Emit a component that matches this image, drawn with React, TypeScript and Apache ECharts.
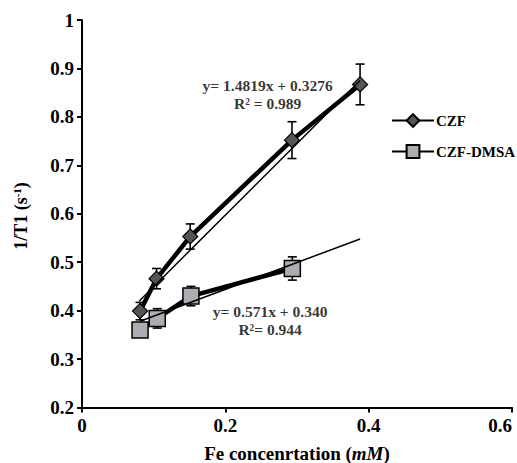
import React, { useEffect, useRef } from "react";
import * as echarts from "echarts";

const czfX = [0.081, 0.104, 0.151, 0.293, 0.388];
const czfY = [0.399, 0.466, 0.553, 0.752, 0.867];
const czfErr = [0.018, 0.021, 0.026, 0.038, 0.042];

const dmsaX = [0.081, 0.105, 0.152, 0.2935];
const dmsaY = [0.36, 0.384, 0.43, 0.487];
const dmsaErr = [0.012, 0.02, 0.02, 0.024];

const czfTrend = [[0.08, 0.42], [0.388, 0.875]];
const dmsaTrend = [[0.081, 0.378], [0.388, 0.548]];

const seriesNames = ["CZF", "CZF-DMSA"];
const czfEq = ["y= 1.4819x + 0.3276", "R² = 0.989"];
const dmsaEq = ["y= 0.571x + 0.340", "R²= 0.944"];

const FONT = "'Liberation Serif', 'Times New Roman', serif";

function errData(xs: number[], ys: number[], es: number[]) {
  return xs.map((x, i) => [x, ys[i] - es[i], ys[i] + es[i]]);
}

const errRender = (params: any, api: any) => {
  const x = api.value(0);
  const lo = api.coord([x, api.value(1)]);
  const hi = api.coord([x, api.value(2)]);
  const w = 4.5;
  const style = { stroke: "#000", lineWidth: 1.6 };
  return {
    type: "group",
    children: [
      { type: "line", shape: { x1: lo[0], y1: lo[1], x2: hi[0], y2: hi[1] }, style },
      { type: "line", shape: { x1: lo[0] - w, y1: lo[1], x2: lo[0] + w, y2: lo[1] }, style },
      { type: "line", shape: { x1: hi[0] - w, y1: hi[1], x2: hi[0] + w, y2: hi[1] }, style },
    ],
  };
};

export default function App() {
  const ref = useRef<HTMLDivElement>(null);
  useEffect(() => {
    if (!ref.current) return;
    const chart = echarts.init(ref.current, undefined, { renderer: "svg" });
    const textBold = { fontFamily: FONT, fontWeight: "bold", color: "#000" };
    chart.setOption({
      animation: false,
      backgroundColor: "#fff",
      grid: {
        left: 82,
        right: 5,
        top: 20,
        bottom: 55.5,
        containLabel: false,
        outerBoundsMode: "none",
      },
      legend: {
        data: seriesNames,
        orient: "vertical",
        left: 386,
        top: 108,
        itemWidth: 42,
        itemHeight: 16,
        itemGap: 16,
        textStyle: { ...textBold, fontSize: 15, padding: [0, 0, 0, -3] },
      },
      xAxis: {
        type: "value",
        min: 0,
        max: 0.6,
        interval: 0.2,
        splitLine: { show: false },
        axisLine: { onZero: false, lineStyle: { color: "#000", width: 2 } },
        axisTick: { show: true, length: 5, lineStyle: { color: "#000", width: 2 } },
        axisLabel: {
          ...textBold,
          fontSize: 19,
          margin: 8,
          alignMaxLabel: "right",
          formatter: (v: number) => String(parseFloat(v.toFixed(1))),
        },
        name: "{b|Fe concenrtation (}{i|mM}{b|)}",
        nameLocation: "middle",
        nameGap: 36,
        nameTextStyle: {
          rich: {
            b: { ...textBold, fontSize: 19 },
            i: { ...textBold, fontSize: 19, fontStyle: "italic" },
          },
        },
      },
      yAxis: {
        type: "value",
        min: 0.2,
        max: 1,
        interval: 0.1,
        splitLine: { show: false },
        axisLine: { show: true, onZero: false, lineStyle: { color: "#000", width: 2 } },
        axisTick: { show: true, length: 5, lineStyle: { color: "#000", width: 2 } },
        axisLabel: {
          ...textBold,
          fontSize: 19,
          margin: 8,
          formatter: (v: number) => String(parseFloat(v.toFixed(1))),
        },
      },
      graphic: [
        {
          type: "text",
          x: 21,
          y: 216,
          rotation: Math.PI / 2,
          style: {
            text: "{b|1/T1 (s}{s|-1}{b|)}",
            align: "center",
            verticalAlign: "middle",
            rich: {
              b: { ...textBold, fill: "#000", fontSize: 18 },
              s: { ...textBold, fill: "#000", fontSize: 11, verticalAlign: "top", padding: [0, 0, 8, 0] },
            },
          },
        },
      ],
      series: [
        {
          type: "custom",
          name: "czfErr",
          renderItem: errRender,
          data: errData(czfX, czfY, czfErr),
          z: 1,
          silent: true,
        },
        {
          type: "custom",
          name: "dmsaErr",
          renderItem: errRender,
          data: errData(dmsaX, dmsaY, dmsaErr),
          z: 1,
          silent: true,
        },
        {
          type: "line",
          name: seriesNames[0],
          data: czfX.map((x, i) => [x, czfY[i]]),
          lineStyle: { color: "#000", width: 4.5 },
          symbol: "diamond",
          symbolSize: 15,
          itemStyle: { color: "#555558", borderColor: "#000", borderWidth: 1.2 },
          z: 3,
        },
        {
          type: "line",
          name: seriesNames[1],
          data: dmsaX.map((x, i) => [x, dmsaY[i]]),
          lineStyle: { color: "#000", width: 4.5 },
          symbol: "rect",
          symbolSize: 16,
          itemStyle: { color: "#acacb2", borderColor: "#000", borderWidth: 1.5 },
          z: 3,
        },
        {
          type: "line",
          name: "czfTrend",
          data: czfTrend,
          symbol: "none",
          lineStyle: { color: "#000", width: 1.5 },
          z: 4,
          silent: true,
        },
        {
          type: "line",
          name: "dmsaTrend",
          data: dmsaTrend,
          symbol: "none",
          lineStyle: { color: "#000", width: 1.5 },
          z: 4,
          silent: true,
        },
        {
          type: "scatter",
          name: "eqLabels",
          symbolSize: 0,
          silent: true,
          data: [
            { value: [0.259, 0.847], label: { show: true, formatter: czfEq.join("\n") } },
            { value: [0.2625, 0.379], label: { show: true, formatter: dmsaEq.join("\n") } },
          ],
          label: {
            ...textBold,
            fontSize: 15.5,
            lineHeight: 18,
            align: "center",
            verticalAlign: "middle",
            position: "inside",
          },
          z: 5,
        },
      ],
    });
    return () => chart.dispose();
  }, []);
  return (
    <div
      ref={ref}
      style={{ position: "fixed", left: 0, top: 0, width: 517, height: 463 }}
    />
  );
}
